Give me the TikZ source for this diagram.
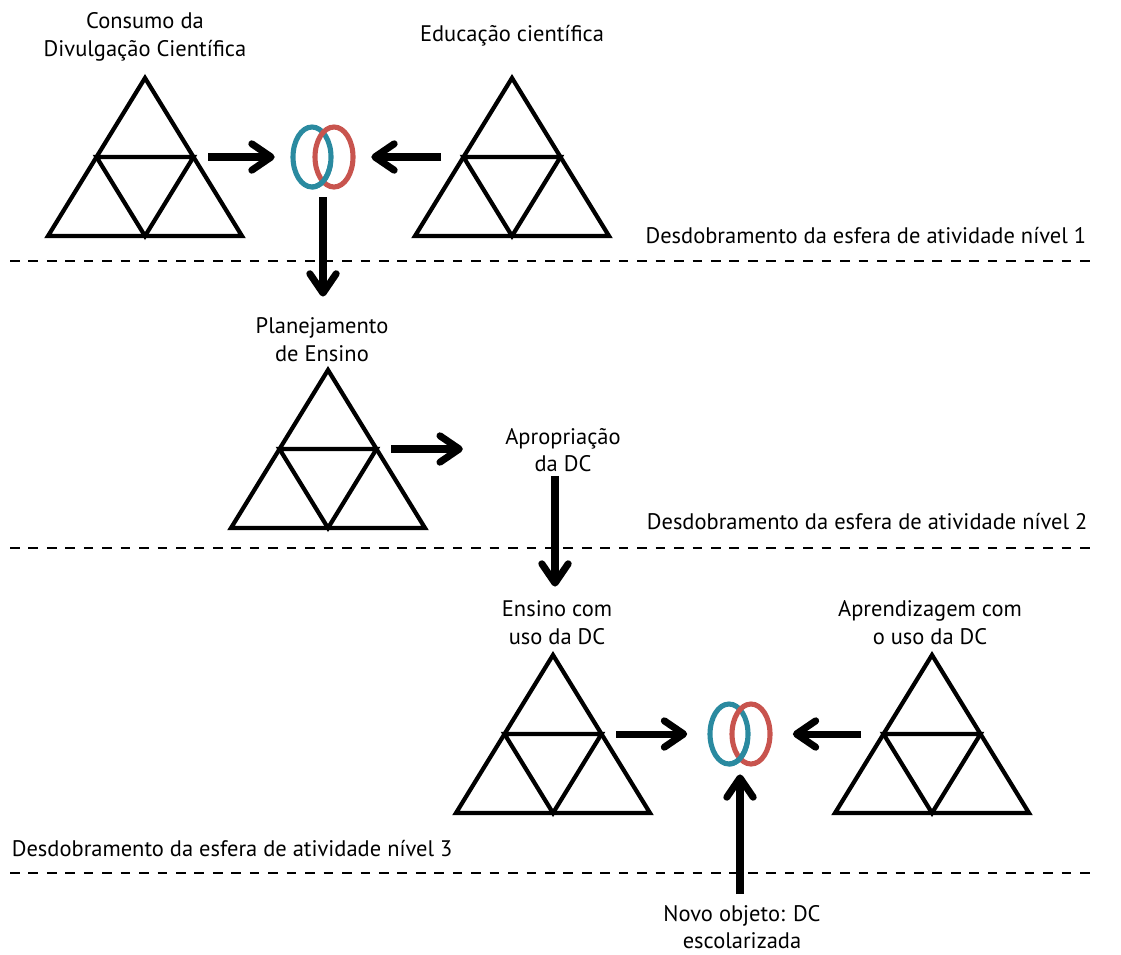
\documentclass[tikz,border=0pt]{standalone}
\usepackage{fontspec}
\setmainfont{PT Sans}
\usetikzlibrary{arrows.meta, positioning}
\definecolor{ring_blue}{RGB}{42,138,160}
\definecolor{ring_red}{RGB}{200,84,78}

\tikzset{
  tri line/.style={line width=2.4pt, line join=miter},
  tri/.pic={
    \draw[tri line] (0,0) -- (97,158) -- (-97,158) -- cycle;
    \draw[tri line] (-48.5,79) -- (48.5,79) -- (0,158) -- cycle;
    \coordinate (-e) at (63,79);
    \coordinate (-w) at (-71,79);
  },
  arr/.style={line width=4pt, -{Straight Barb[length=11pt, width=15pt, round]}},
  ringbox/.style={minimum width=1.92cm, minimum height=1.6cm, inner sep=0pt},
  ringline/.style={line width=2.9pt},
  lbl/.style={font=\fontsize{12.8}{15.8}\selectfont, align=center, inner sep=2pt},
  level/.style={dash pattern=on 5.5pt off 5pt, line width=1.1pt},
}

\begin{document}
\begin{tikzpicture}[x=0.02cm, y=-0.02cm]
      \useasboundingbox (0,0) rectangle (1121,954);
      % level 1
      \pic (T1) at (145,78) {tri};
      \pic (T2) at (512,78) {tri};
      \node[lbl] (consumo) at (145,37) {Consumo da\\Divulgação Científica};
      \node[lbl] (educ) at (512,36) {Educação científica};
      \node[ringbox] (R1) at (323,157) {};
      \draw[ringline, ring_blue] (R1) ++(-11,0) ellipse [x radius=0.38cm, y radius=0.6cm];
      \draw[ringline, ring_red] (R1) ++(11,0) ellipse [x radius=0.38cm, y radius=0.6cm];
      \draw[ringline, ring_blue] (R1) ++(-11,30) arc [start angle=-90, end angle=-15, x radius=0.38cm, y radius=0.6cm];
      \draw[arr] (T1-e) -- (R1.west);
      \draw[arr] (T2-w) -- (R1.east);
      \node[lbl, anchor=east] (nivel1) at (1090,236) {Desdobramento da esfera de atividade nível 1};
      \coordinate (d1a) at (10,261);
      \coordinate (d1b) at (1090,261);
      \draw[level] (d1a) -- (d1b);
      % level 2
      \pic (T3) at (328,370) {tri};
      \node[lbl] (plan) at (322,340) {Planejamento\\de Ensino};
      \node[lbl] (apro) at (563,450) {Apropriação\\da DC};
      \draw[arr, shorten >=10pt] (R1.south) -- (R1.south |- plan.north);
      \draw[arr, shorten >=22pt] (T3-e) -- (T3-e -| apro.west);
      \node[lbl, anchor=west] (nivel2) at (643,522) {Desdobramento da esfera de atividade nível 2};
      \coordinate (d2a) at (10,548);
      \coordinate (d2b) at (1090,548);
      \draw[level] (d2a) -- (d2b);
      % level 3
      \pic (T4) at (553,655) {tri};
      \pic (T5) at (932,655) {tri};
      \node[lbl] (ensino) at (557,623) {Ensino com\\uso da DC};
      \node[lbl] (aprend) at (930,623) {Aprendizagem com\\o uso da DC};
      \draw[arr, shorten >=6pt] (apro.south -| ensino.north) ++(-2,0) -- (ensino.north -| 555,0);
      \node[ringbox, minimum width=2.1cm] (R2) at (740,734) {};
      \draw[ringline, ring_blue] (R2) ++(-11,0) ellipse [x radius=0.38cm, y radius=0.6cm];
      \draw[ringline, ring_red] (R2) ++(11,0) ellipse [x radius=0.38cm, y radius=0.6cm];
      \draw[ringline, ring_blue] (R2) ++(-11,30) arc [start angle=-90, end angle=-15, x radius=0.38cm, y radius=0.6cm];
      \draw[arr] (T4-e) -- (R2.west);
      \draw[arr] (T5-w) -- (R2.east);
      \node[lbl, anchor=west] (nivel3) at (8,849) {Desdobramento da esfera de atividade nível 3};
      \coordinate (d3a) at (10,873);
      \coordinate (d3b) at (1090,873);
      \draw[level] (d3a) -- (d3b);
      \node[lbl] (novo) at (742,927) {Novo objeto: DC\\escolarizada};
      \draw[arr, shorten <=4pt] (novo.north -| R2.south) -- (R2.south);
    \end{tikzpicture}
\end{document}
